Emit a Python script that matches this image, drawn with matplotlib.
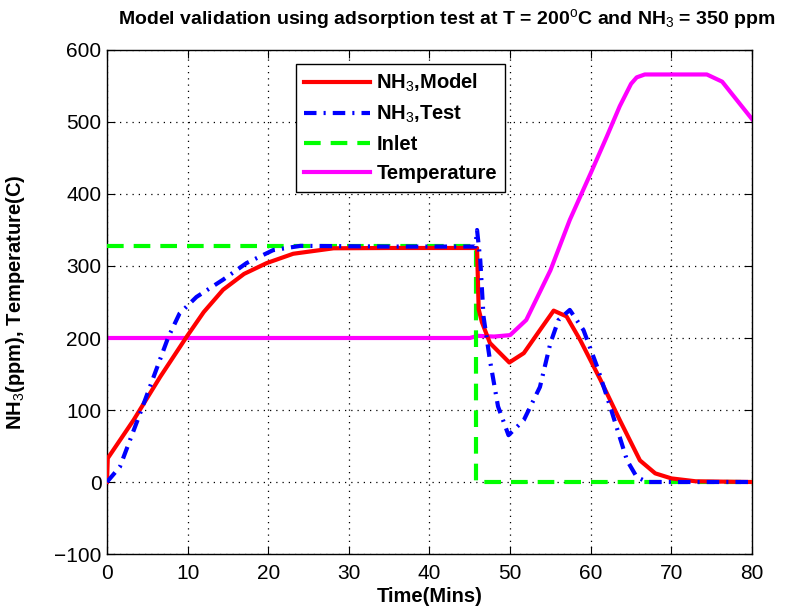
import matplotlib as mpl
mpl.use('Agg')
import matplotlib.pyplot as plt

# NH3 model output (ppm) vs time (min)
time_model = [0, 0.1, 3.3, 6.6, 9.9, 12, 14.4, 17, 19.8, 23.1, 28.1, 35, 45.9, 46.1, 46.5, 47.5,
              49.9, 51.7, 53.7, 55.4, 57, 58.7, 61.2, 63.6, 66.1, 68, 70, 73, 80]
nh3_model = [0, 33, 86, 146, 202, 236, 267, 289, 304, 317, 324.6, 325, 325, 240, 222, 193,
             166, 179, 211, 238, 230, 197, 142, 86, 30, 12, 5, 1, 0]

# NH3 test measurement (ppm)
time_test = [0, 1.6, 4.1, 7.6, 9.0, 11.1, 14.4, 17.3, 20.6, 24, 35, 45.7, 45.9, 46.3,
             46.7, 47.5, 48.5, 49.8, 51.7, 53.7, 55, 56, 57.4, 59.1, 60.8, 62.4, 64.5,
             65.7, 67, 80]
nh3_test = [0, 21, 95, 201, 234, 257, 281, 304, 322, 328, 327, 327, 350, 308,
            230, 169, 105, 65, 86, 132, 193, 225, 239, 211, 160, 105, 30,
            7, 0, 0]

# Inlet NH3 (ppm)
time_inlet = [0, 45.8, 45.8, 80]
nh3_inlet = [328, 328, 0, 0]

# Temperature (C)
time_temp = [0, 45, 46, 48, 50, 52, 55, 57.4, 60, 62, 63.6, 65, 65.7, 66.7, 74.4, 76.3, 80]
temp = [200, 200, 203, 202, 204, 225, 294, 364, 429, 480, 522, 553, 562, 566, 566, 556, 504]

mpl.rcParams.update({'font.family': ['Liberation Sans', 'DejaVu Sans'], 'font.size': 14,
                     'mathtext.fontset': 'custom', 'mathtext.rm': 'Liberation Sans',
                     'mathtext.bf': 'Liberation Sans:bold', 'mathtext.it': 'Liberation Sans'})

fig = plt.figure(figsize=(7.9, 6.06), dpi=100)
ax = fig.add_axes([0.1354, 0.0858, 0.8165, 0.8317])

ax.plot(time_model, nh3_model, color='red', lw=3, label='NH$_3$,Model', zorder=4)
ax.plot(time_test, nh3_test, color='blue', lw=3, dashes=[3, 1.7, 0.5, 1.7],
        label='NH$_3$,Test', zorder=5)
ax.plot(time_inlet, nh3_inlet, color='#00ff00', lw=3, dashes=[4, 2.4], label='Inlet', zorder=3)
ax.plot(time_temp, temp, color='magenta', lw=3, label='Temperature', zorder=2)

ax.set_xlim(0, 80)
ax.set_ylim(-100, 600)
ax.set_xticks(range(0, 81, 10))
ax.set_yticks(range(-100, 601, 100))
ax.grid(True, color='black', linestyle=(0, (1, 4)), linewidth=0.9)
ax.tick_params(direction='in', top=True, right=True, length=6, labelsize=15)
ax.tick_params(axis='x', pad=7)
ax.tick_params(axis='y', pad=4)
for s in ax.spines.values():
    s.set_linewidth(1)

ax.set_xlabel('Time(Mins)', fontweight='bold', fontsize=14.5)
ax.set_ylabel('NH$_3$(ppm), Temperature(C)', fontweight='bold', fontsize=14.5)
ax.xaxis.set_label_coords(0.5, -0.066)
ax.yaxis.set_label_coords(-0.124, 0.5)
fig.text(0.566, 0.968, 'Model validation using adsorption test at T = 200$^o$C and NH$_3$ = 350 ppm',
         ha='center', va='center', fontweight='bold', fontsize=14)

leg = ax.legend(loc='upper left', bbox_to_anchor=(0.277, 0.993), fancybox=False,
                edgecolor='black', framealpha=1, handlelength=3.3, labelspacing=0.5,
                prop={'weight': 'bold', 'size': 14.5}, borderpad=0.4, handletextpad=0.3)
leg.get_frame().set_linewidth(1)

plt.savefig('out.png', dpi=100)
